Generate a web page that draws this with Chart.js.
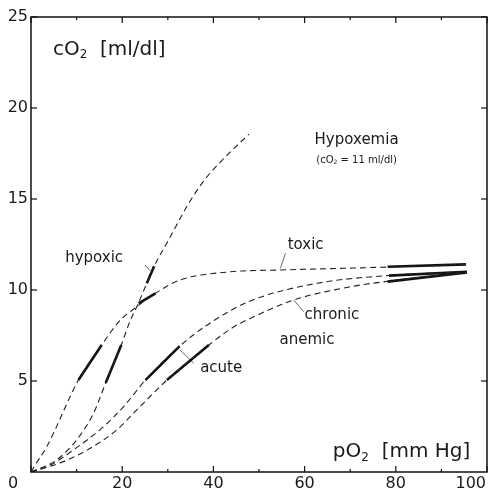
<!DOCTYPE html>
<html>
<head>
<meta charset="utf-8">
<script src="https://cdn.jsdelivr.net/npm/chart.js@4/dist/chart.umd.min.js"></script>
<style>
  html, body { margin: 0; padding: 0; background: #fff; }
</style>
</head>
<body>
<canvas id="chart" width="492" height="493"></canvas>
<script>
// axis ticks
var xTicks = [0, 20, 40, 60, 80, 100];
var xMinor = [10, 30, 50, 70, 90];
var yTicks = [5, 10, 15, 20, 25];

// curves (pO2 mmHg, cO2 ml/dl)
var toxicX = [0, 0.9, 3.45, 10.4, 15.5, 19.6, 23.2, 27.3, 32.7, 43.7, 54.7, 76.7, 95.4];
var toxicY = [0, 0.38, 1.39, 5.05, 6.98, 8.35, 9.08, 9.82, 10.55, 11.0, 11.1, 11.25, 11.41];

var hypoxicX = [0, 5.6, 10.0, 13.7, 16.4, 19.8, 21.8, 23.2, 25.4, 27.0, 30.5, 34.2, 37.9, 41.8, 47.8];
var hypoxicY = [0, 0.66, 1.76, 3.22, 4.9, 6.98, 8.35, 9.08, 10.37, 11.3, 12.9, 14.6, 16.0, 17.1, 18.57];

var acuteX = [0, 4.2, 9.3, 15.9, 20.3, 25.1, 32.6, 40.0, 48.1, 62.8, 78.5, 95.6];
var acuteY = [0, 0.38, 1.21, 2.49, 3.59, 5.05, 6.92, 8.3, 9.4, 10.37, 10.8, 11.0];

var chronicX = [0, 7.1, 13.0, 18.8, 23.2, 29.8, 39.0, 44.5, 48.1, 57.6, 70.1, 78.9, 95.6];
var chronicY = [0, 0.57, 1.3, 2.31, 3.41, 5.05, 6.98, 7.98, 8.44, 9.45, 10.18, 10.5, 10.97];

// solid (a / v) stretches on each curve
var solidSegs = [
    [[10.4, 15.5], [5.05, 6.98]],
    [[23.6, 27.3], [9.27, 9.82]],
    [[78.2, 95.4], [11.28, 11.41]],
    [[16.4, 19.8], [4.9, 6.98]],
    [[25.4, 27.0], [10.37, 11.3]],
    [[25.1, 32.6], [5.05, 6.92]],
    [[78.5, 95.6], [10.79, 11.0]],
    [[29.8, 39.0], [5.05, 6.98]],
    [[78.2, 95.6], [10.46, 10.97]]
];

// little leader lines from labels to curves
var leaders = [
    [[25.05, 26.1], [11.37, 11.06]],
    [[55.8, 54.7], [12.02, 11.19]],
    [[57.6, 59.8], [9.45, 8.81]],
    [[32.7, 35.7], [6.70, 5.97]]
];

var FONT = '"DejaVu Sans", sans-serif';

function pts(xs, ys) {
    return xs.map(function(x, i) { return {x: x, y: ys[i]}; });
}

function dashed(xs, ys) {
    return {
        data: pts(xs, ys),
        borderColor: '#222',
        borderWidth: 1.1,
        borderDash: [6, 4],
        pointRadius: 0,
        fill: false,
        cubicInterpolationMode: 'monotone'
    };
}

var datasets = [
    dashed(toxicX, toxicY),
    dashed(hypoxicX, hypoxicY),
    dashed(acuteX, acuteY),
    dashed(chronicX, chronicY)
];

solidSegs.forEach(function(s) {
    datasets.push({
        data: pts(s[0], s[1]),
        borderColor: '#111',
        borderWidth: 2.6,
        pointRadius: 0,
        fill: false
    });
});

leaders.forEach(function(s) {
    datasets.push({
        data: pts(s[0], s[1]),
        borderColor: '#444',
        borderWidth: 0.8,
        pointRadius: 0,
        fill: false
    });
});

// draw text made of normal and subscript pieces
function rich(ctx, parts, x, y, size, align) {
    var w = 0;
    parts.forEach(function(p) {
        ctx.font = (p.sub ? Math.round(size * 0.62) : size) + 'px ' + FONT;
        w += ctx.measureText(p.t).width;
    });
    var cx = align === 'center' ? x - w / 2 : x;
    ctx.textAlign = 'left';
    parts.forEach(function(p) {
        ctx.font = (p.sub ? Math.round(size * 0.62) : size) + 'px ' + FONT;
        ctx.fillText(p.t, cx, p.sub ? y + size * 0.28 : y);
        cx += ctx.measureText(p.t).width;
    });
}

var deco = {
    id: 'deco',
    afterDraw: function(chart) {
        var ctx = chart.ctx, a = chart.chartArea;
        var xs = chart.scales.x, ys = chart.scales.y;
        ctx.save();
        ctx.strokeStyle = '#111';
        ctx.lineWidth = 1.5;
        ctx.strokeRect(a.left, a.top, a.right - a.left, a.bottom - a.top);

        ctx.lineWidth = 1.2;
        function seg(x1, y1, x2, y2) {
            ctx.beginPath(); ctx.moveTo(x1, y1); ctx.lineTo(x2, y2); ctx.stroke();
        }
        xTicks.forEach(function(v) {
            var p = xs.getPixelForValue(v);
            seg(p, a.bottom, p, a.bottom - 6);
            seg(p, a.top, p, a.top + 6);
        });
        xMinor.forEach(function(v) {
            var p = xs.getPixelForValue(v);
            seg(p, a.bottom, p, a.bottom - 3);
            seg(p, a.top, p, a.top + 3);
        });
        yTicks.forEach(function(v) {
            var p = ys.getPixelForValue(v);
            seg(a.left, p, a.left + 6, p);
            seg(a.right, p, a.right - 6, p);
        });

        ctx.fillStyle = '#1a1a1a';
        ctx.textBaseline = 'middle';
        ctx.font = '16px ' + FONT;
        xTicks.forEach(function(v, i) {
            var p = xs.getPixelForValue(v);
            if (i === 0) { ctx.textAlign = 'center'; ctx.fillText(String(v), p - 18, a.bottom + 12); }
            else if (i === xTicks.length - 1) { ctx.textAlign = 'right'; ctx.fillText(String(v), a.right - 1, a.bottom + 12); }
            else { ctx.textAlign = 'center'; ctx.fillText(String(v), p, a.bottom + 12); }
        });
        ctx.textAlign = 'right';
        yTicks.forEach(function(v) {
            ctx.fillText(String(v), a.left - 3, ys.getPixelForValue(v));
        });

        function at(x, y) { return [xs.getPixelForValue(x), ys.getPixelForValue(y)]; }
        var p;
        p = at(4.8, 23.2);
        rich(ctx, [{t: 'cO'}, {t: '2', sub: true}, {t: '  [ml/dl]'}], p[0], p[1], 20, 'left');
        p = at(66.2, 1.1);
        rich(ctx, [{t: 'pO'}, {t: '2', sub: true}, {t: '  [mm Hg]'}], p[0], p[1], 20, 'left');
        p = at(71.4, 18.24);
        rich(ctx, [{t: 'Hypoxemia'}], p[0], p[1], 15, 'center');
        p = at(71.4, 17.14);
        rich(ctx, [{t: '(cO'}, {t: '2', sub: true}, {t: ' = 11 ml/dl)'}], p[0], p[1], 10, 'center');
        p = at(7.5, 11.76);
        rich(ctx, [{t: 'hypoxic'}], p[0], p[1], 15, 'left');
        p = at(56.3, 12.47);
        rich(ctx, [{t: 'toxic'}], p[0], p[1], 15, 'left');
        p = at(60.0, 8.63);
        rich(ctx, [{t: 'chronic'}], p[0], p[1], 15, 'left');
        p = at(54.5, 7.25);
        rich(ctx, [{t: 'anemic'}], p[0], p[1], 15, 'left');
        p = at(37.1, 5.71);
        rich(ctx, [{t: 'acute'}], p[0], p[1], 15, 'left');
        ctx.restore();
    }
};

new Chart(document.getElementById('chart').getContext('2d'), {
    type: 'line',
    data: { datasets: datasets },
    options: {
        responsive: false,
        animation: false,
        layout: { padding: { top: 17, right: 5, left: 0, bottom: 0 } },
        plugins: { legend: { display: false }, tooltip: { enabled: false } },
        scales: {
            x: {
                type: 'linear', min: 0, max: 100,
                ticks: { display: false },
                grid: { display: false },
                border: { display: false },
                afterFit: function(s) { s.height = 21; }
            },
            y: {
                type: 'linear', min: 0, max: 25,
                ticks: { display: false },
                grid: { display: false },
                border: { display: false },
                afterFit: function(s) { s.width = 31; }
            }
        }
    },
    plugins: [deco]
});
</script>
</body>
</html>
